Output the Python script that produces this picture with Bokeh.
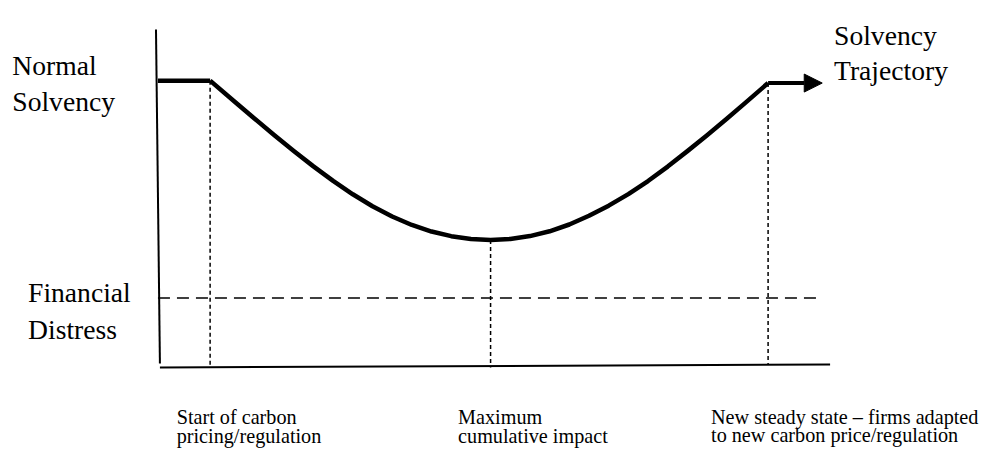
from bokeh.plotting import figure
from bokeh.models import Range1d, Arrow, NormalHead
from bokeh.core.properties import value
from bokeh.embed import file_html
from bokeh.resources import INLINE

# --- schematic data (arbitrary time / solvency units) ---
axis_time = [0, 681]
axis_time_baseline = [0, 3]
axis_solv_x = [-4, 0]
axis_solv_y = [350, 4]

normal_solvency = 297
steady_solvency = 294.5
distress_level = 72

flat_start_time = [-2, 51]
shock_time = 51
min_time = 336
min_solvency = 132
steady_time = 618
arrow_tip_time = 673

curve_time = [51, 76, 96, 116, 136, 156, 176, 196, 216, 236, 256, 276, 296, 316, 336,
              356, 376, 396, 416, 436, 456, 476, 496, 516, 536, 556, 576, 596, 618]
curve_solvency = [297, 275.2, 257.8, 240.7, 224.2, 208.2, 193.2, 179.3, 166.9, 156.3,
                  147.5, 140.7, 135.9, 133, 132,
                  133, 136, 141, 148, 157, 167.5, 179.5, 193, 208, 224, 240.5, 257.5,
                  275, 294.5]

distress_time = [-2, 668]

big_labels = ["Normal", "Solvency", "Solvency", "Trajectory", "Financial", "Distress"]
big_x = [-150, -150, 685, 685, -134, -134]
big_y = [313, 275, 344, 308, 78, 39]

small_labels = ["Start of carbon", "pricing/regulation",
                "Maximum", "cumulative impact",
                "New steady state \u2013 firms adapted", "to new carbon price/regulation"]
small_x = [17, 17, 303, 303, 560, 560]
small_y = [-51, -71, -51, -71, -51, -70]

p = figure(width=990, height=448, output_backend="svg", toolbar_location=None,
           x_range=Range1d(-162, 844), y_range=Range1d(-84, 380), min_border=0)
p.axis.visible = False
p.grid.visible = False
p.outline_line_color = None
p.background_fill_color = "white"
p.border_fill_color = "white"

# axes
p.line(axis_solv_x, axis_solv_y, line_color="black", line_width=2)
p.line(axis_time, axis_time_baseline, line_color="black", line_width=2)

# dashed reference lines
p.line(distress_time, [distress_level, distress_level], line_color="black",
       line_width=1.5, line_dash="12 7")
p.line([shock_time, shock_time], [normal_solvency, 0], line_color="black",
       line_width=1.5, line_dash="4 3")
p.line([min_time, min_time], [min_solvency, 0], line_color="black",
       line_width=1.5, line_dash="4 3")
p.line([steady_time, steady_time], [steady_solvency, 3], line_color="black",
       line_width=1.5, line_dash="4 3")

# trajectory
p.line(flat_start_time, [normal_solvency, normal_solvency], line_color="black", line_width=4.5)
p.line(curve_time, curve_solvency, line_color="black", line_width=4.5, line_join="round")
p.add_layout(Arrow(x_start=steady_time, y_start=steady_solvency,
                   x_end=arrow_tip_time, y_end=steady_solvency,
                   line_color="black", line_width=4,
                   end=NormalHead(size=18, fill_color="black", line_color="black", line_width=1)))

# texts
p.text(x=big_x, y=big_y, text=big_labels, text_font=value("Liberation Serif"),
       text_font_size="27.6px", text_color="black", text_baseline="alphabetic",
       text_align="left")
p.text(x=small_x, y=small_y, text=small_labels, text_font=value("Liberation Serif"),
       text_font_size="20.2px", text_color="black", text_baseline="alphabetic",
       text_align="left")

open("out.html", "w").write(file_html(p, INLINE))
